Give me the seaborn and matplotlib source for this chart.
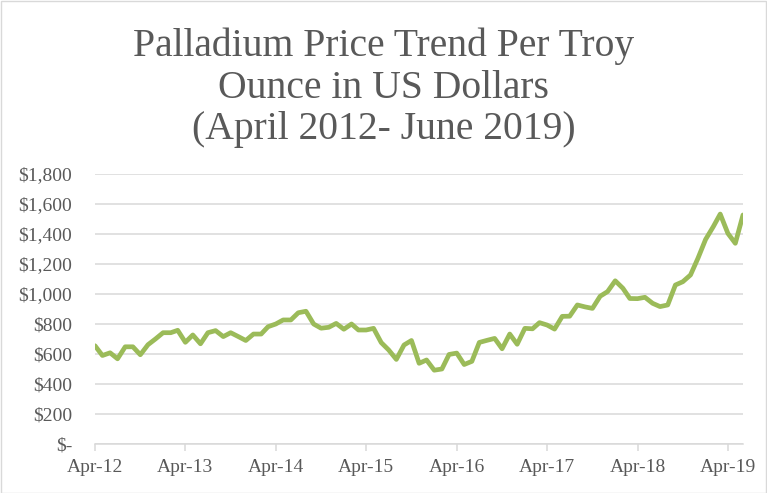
import numpy as np
import pandas as pd
import matplotlib
matplotlib.use("Agg")
import matplotlib.pyplot as plt
import matplotlib.dates as mdates
from matplotlib.ticker import FuncFormatter
from matplotlib.patches import Rectangle
import seaborn as sns

title_lines = ["Palladium Price Trend Per Troy", "Ounce in US Dollars", "(April 2012- June 2019)"]
start_month = "2012-04-01"
prices = [655, 590, 608, 568, 648, 648, 595, 662, 700, 742, 742, 758,
          678, 727, 668, 742, 756, 716, 742, 716, 690, 733, 733, 782,
          800, 827, 827, 875, 885, 800, 772, 778, 804, 765, 800, 760,
          760, 771, 676, 627, 564, 660, 690, 538, 560, 492, 500, 597,
          606, 530, 551, 677, 691, 704, 635, 733, 665, 771, 768, 809,
          793, 766, 851, 852, 927, 914, 904, 985, 1016, 1088, 1038, 970,
          969, 978, 938, 916, 927, 1060, 1082, 1127, 1238, 1364, 1449, 1533,
          1404, 1338, 1527]
y_ticks = [0, 200, 400, 600, 800, 1000, 1200, 1400, 1600, 1800]

months = pd.date_range(start_month, periods=len(prices), freq="MS")
df = pd.DataFrame({"Month": months, "Price": prices})

sns.set_theme(style="white")
serif = ["Liberation Serif", "DejaVu Serif"]
plt.rcParams["font.family"] = serif

W, H = 767, 493
fig = plt.figure(figsize=(W / 100, H / 100), dpi=100)
ax = fig.add_axes([95 / W, 1 - 444 / H, (743 - 95) / W, (444 - 174) / H])

sns.lineplot(data=df, x="Month", y="Price", ax=ax, color="#9BBB59",
             linewidth=3.4, solid_joinstyle="round", solid_capstyle="round")

ax.set_xlim(months[0], months[-1])
ax.set_ylim(0, 1800)
ax.set_yticks(y_ticks)
ax.yaxis.set_major_formatter(FuncFormatter(lambda v, p: "$-" if v == 0 else f"${v:,.0f}"))
ax.xaxis.set_major_locator(mdates.MonthLocator(bymonth=4))
ax.xaxis.set_major_formatter(mdates.DateFormatter("%b-%y"))
ax.grid(axis="y", color="#d9d9d9", linewidth=1.1)
ax.set_axisbelow(True)
for s in ["top", "right", "left"]:
    ax.spines[s].set_visible(False)
ax.spines["bottom"].set_color("#d9d9d9")
ax.spines["bottom"].set_linewidth(1.1)
ax.tick_params(axis="x", which="major", bottom=True, length=5, width=1.1,
               color="#d9d9d9", labelsize=14, labelcolor="#595959", pad=6)
ax.tick_params(axis="y", left=False, labelsize=14, labelcolor="#595959", pad=10.5)

ax.set_xlabel("")
ax.set_ylabel("")

title_y = [46, 88, 130]
for line, yy in zip(title_lines, title_y):
    fig.text(0.5, 1 - yy / H, line, ha="center", va="center",
             fontsize=28.5, color="#595959", family=serif)

fig.patches.append(Rectangle((0.5 / W, 0.5 / H), 1 - 1.5 / W, 1 - 1.5 / H,
                             transform=fig.transFigure, fill=False,
                             edgecolor="#d9d9d9", linewidth=1))

fig.savefig("out.png", dpi=100)
